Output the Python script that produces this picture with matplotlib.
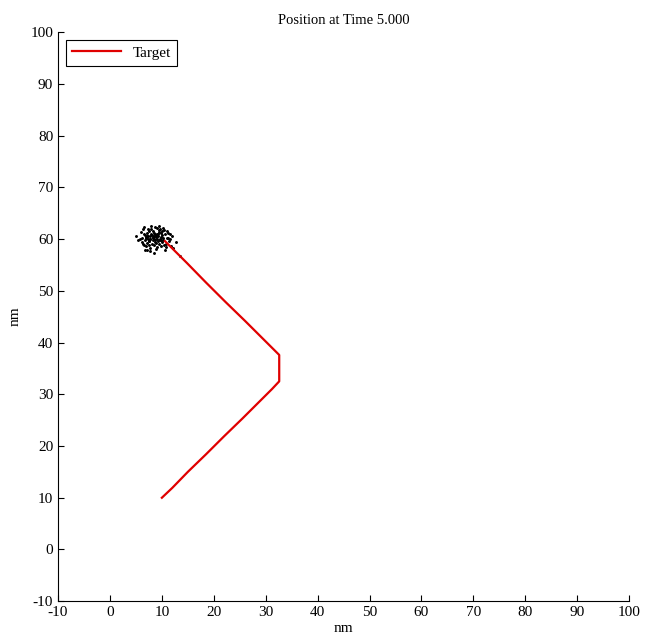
import numpy as np
import matplotlib
matplotlib.use("Agg")
import matplotlib.pyplot as plt

plt.rcParams['font.family'] = ['Liberation Serif', 'DejaVu Serif']
plt.rcParams['axes.unicode_minus'] = False

# target track (nm)
target_x = [10.0, 12.0, 15.0, 18.5, 22.0, 25.5, 28.8, 31.2, 32.6, 32.6, 32.6, 29.5, 26.0, 22.3, 18.5, 14.8, 12.0, 10.6]
target_y = [10.0, 11.9, 15.0, 18.4, 21.9, 25.3, 28.6, 31.0, 32.5, 35.0, 37.6, 40.7, 44.2, 47.8, 51.6, 55.4, 58.2, 59.6]

# particle cloud (nm)
part_x = [7.0, 7.5, 8.0, 8.3, 8.6, 9.0, 9.3, 9.6, 10.0, 10.3, 10.7, 11.0, 11.4, 11.8,
          7.2, 7.8, 8.2, 8.8, 9.2, 9.8, 10.2, 10.8, 11.2, 12.0, 12.4,
          6.8, 7.4, 8.1, 8.5, 9.1, 9.5, 9.9, 10.5, 10.9, 11.6,
          7.6, 8.4, 8.9, 9.4, 10.1, 10.6, 11.3, 12.1, 12.8,
          6.5, 7.3, 8.0, 8.7, 9.3, 9.7, 10.4, 11.1, 11.7,
          7.9, 8.6, 9.0, 9.6, 10.2, 10.8, 11.5, 12.3,
          7.1, 7.7, 8.3, 9.2, 9.8, 10.5, 11.0, 13.0, 13.5, 14.2,
          8.0, 8.8, 9.4, 10.0, 10.7, 11.9, 12.6, 7.5, 8.5, 9.7, 10.3, 6.9, 11.4,
          7.7, 8.2, 8.6, 9.0, 9.5, 9.9, 8.4, 8.9, 9.3, 7.4, 10.6, 6.2, 5.9]
part_y = [60.2, 60.8, 61.2, 59.6, 60.5, 61.5, 60.0, 59.3, 60.9, 61.8, 60.4, 59.8, 61.0, 60.3,
          59.0, 58.6, 62.0, 61.9, 58.8, 62.2, 59.1, 61.5, 58.9, 61.2, 60.0,
          61.3, 62.3, 60.0, 58.2, 60.2, 61.0, 58.5, 62.0, 59.4, 59.1,
          59.9, 61.6, 59.0, 62.4, 60.6, 58.6, 61.7, 59.6, 60.6,
          60.0, 58.9, 59.2, 60.9, 61.2, 60.4, 59.9, 60.2, 61.6,
          57.8, 57.6, 59.9, 58.0, 62.5, 60.7, 58.4, 61.0,
          61.9, 60.4, 58.9, 57.3, 61.0, 60.1, 62.1, 58.3, 59.5, 56.8,
          60.6, 62.6, 59.4, 59.6, 61.2, 60.2, 58.7, 57.9, 60.1, 60.7, 61.4, 59.5, 57.9,
          60.3, 60.6, 60.1, 60.4, 59.8, 60.0, 59.7, 60.8, 60.5, 60.9, 59.9, 59.8, 60.5]

fig = plt.figure(figsize=(6.52, 6.43), dpi=100)
ax = fig.add_axes([0.089, 0.065, 0.876, 0.885])

part_x = [x - 0.8 for x in part_x]
ax.plot(part_x, part_y, '.', color='black', markersize=2.2, linestyle='none')
ax.plot(target_x, target_y, '-', color='#e00000', linewidth=1.6, label='Target')

ax.set_xlim(-10, 100)
ax.set_ylim(-10, 100)
ax.set_xticks(np.arange(-10, 101, 10))
ax.set_yticks(np.arange(-10, 101, 10))
ax.tick_params(direction='in', length=4, labelsize=11)
ax.spines['top'].set_visible(False)
ax.spines['right'].set_visible(False)

ax.set_title('Position at Time 5.000', fontsize=10.5, pad=6)
ax.set_xlabel('nm', fontsize=11, labelpad=2)
ax.set_ylabel('nm', fontsize=11, labelpad=6)

leg = ax.legend(loc='upper left', fontsize=11, fancybox=False, edgecolor='black',
                framealpha=1, borderaxespad=0.5, handlelength=3.2)
leg.get_frame().set_linewidth(0.8)

fig.savefig('out.png', dpi=100)
